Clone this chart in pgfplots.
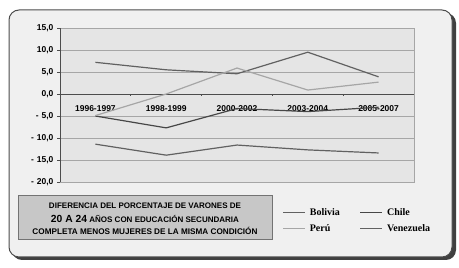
\documentclass[border=0pt]{standalone}
\usepackage{pgfplots}
\pgfplotsset{compat=1.18}
\usepackage{fontspec}
\setmainfont{Liberation Sans}
\newfontfamily\serifb{Liberation Serif}
\begin{document}
\begin{tikzpicture}
\useasboundingbox (0pt,0pt) rectangle (459pt,268pt);
\fill[black!75, rounded corners=10pt] (12pt,8pt) rectangle (456pt,255pt);
\filldraw[fill=black!6, draw=black!70, line width=1pt, rounded corners=10pt] (9pt,11pt) rectangle (452pt,258pt);
\filldraw[fill=black!22, draw=black!55, line width=1pt] (18pt,28pt) rectangle (272pt,72pt);
\node[font=\fontsize{7}{8}\selectfont\bfseries] at (145pt,62pt) {\resizebox{192pt}{!}{DIFERENCIA DEL PORCENTAJE DE VARONES DE}};
\node[font=\fontsize{7}{8}\selectfont\bfseries] at (145pt,49.5pt) {\resizebox{188pt}{!}{{\fontsize{9}{9}\selectfont 20 A 24} AÑOS CON EDUCACIÓN SECUNDARIA}};
\node[font=\fontsize{7}{8}\selectfont\bfseries] at (145pt,37pt) {\resizebox{225pt}{!}{COMPLETA MENOS MUJERES DE LA MISMA CONDICIÓN}};
\begin{axis}[
  at={(60pt,86pt)}, anchor=south west,
  width=354pt, height=154pt, scale only axis,
  xmin=-0.5, xmax=4.5, ymin=-20, ymax=15,
  axis line style={draw=none},
  axis background/.style={fill=black!10},
  xtick={0,1,2,3,4},
  xticklabels={1996-1997,1998-1999,2000-2002,2003-2004,2005-2007},
  xtick style={draw=none},
  ytick style={black!70, line width=0.8pt},
  tick align=outside, ytick pos=left,
  major tick length=3pt,
  xticklabel style={font=\fontsize{8.5}{9}\selectfont\bfseries, yshift=83pt},
  ytick={-20,-15,-10,-5,0,5,10,15},
  yticklabels={{-\hspace{3pt}20,0},{-\hspace{3pt}15,0},{-\hspace{3pt}10,0},{-\hspace{3pt}5,0},{0,0},{5,0},{10,0},{15,0}},
  yticklabel style={font=\fontsize{8.5}{9}\selectfont\bfseries},
  ymajorgrids, grid style={black!35, line width=0.6pt},
  legend columns=2,
  legend cell align=left,
  legend style={at={(0.62,-0.143)}, anchor=north west, draw=none, fill=none,
    font=\fontsize{10}{11}\selectfont\serifb\bfseries,
    column sep=2pt, row sep=4pt,
    /tikz/every even column/.append style={column sep=18pt}},
  legend image code/.code={\draw[#1, line width=1.2pt] (0pt,0pt) -- (22pt,0pt);},
  every axis plot/.append style={line width=1.2pt},
  clip=false,
]
\draw[black!35, line width=0.6pt] (rel axis cs:0,0) rectangle (rel axis cs:1,1);
\draw[black!70, line width=0.9pt] (axis cs:-0.5,0) -- (axis cs:4.5,0);
\draw[black!70, line width=0.9pt] (rel axis cs:0,0) -- (rel axis cs:0,1);
\draw[black!70, line width=0.8pt] (axis cs:0.5,0) -- (axis cs:0.5,-0.5);
\draw[black!70, line width=0.8pt] (axis cs:1.5,0) -- (axis cs:1.5,-0.5);
\draw[black!70, line width=0.8pt] (axis cs:2.5,0) -- (axis cs:2.5,-0.5);
\draw[black!70, line width=0.8pt] (axis cs:3.5,0) -- (axis cs:3.5,-0.5);
\addplot[black!62] coordinates {(0,7.2) (1,5.5) (2,4.6) (3,9.5) (4,3.9)};
\addlegendentry{Bolivia}
\addplot[black!72] coordinates {(0,-5.0) (1,-7.7) (2,-3.3) (3,-4.0) (4,-3.0)};
\addlegendentry{Chile}
\addplot[black!35] coordinates {(0,-4.9) (1,0.0) (2,5.9) (3,0.9) (4,2.7)};
\addlegendentry{Per\char"FA}
\addplot[black!62] coordinates {(0,-11.4) (1,-13.9) (2,-11.6) (3,-12.7) (4,-13.4)};
\addlegendentry{Venezuela}
\end{axis}
\end{tikzpicture}
\end{document}
